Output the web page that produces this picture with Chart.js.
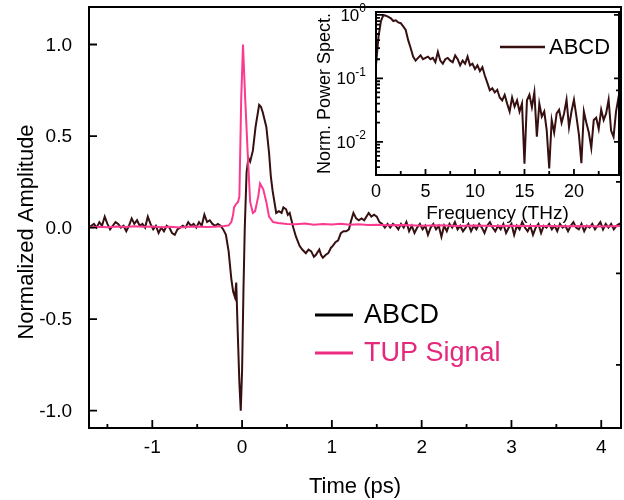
<!DOCTYPE html>
<html>
<head>
<meta charset="utf-8">
<script src="https://cdn.jsdelivr.net/npm/chart.js@4"></script>
<style>
  body { margin: 0; background: #fff; }
  #wrap { position: relative; width: 624px; height: 500px; }
  #main { position: absolute; left: 0; top: 0; }
  #inset { position: absolute; left: 300px; top: 0; }
</style>
</head>
<body>
<div id="wrap">
  <canvas id="main" width="624" height="500"></canvas>
  <canvas id="inset" width="324" height="225"></canvas>
</div>
<script>
// 시간 영역 데이터 (ps)
const abcdTime = [
  -1.71, -1.68, -1.65, -1.62, -1.59, -1.56, -1.53, -1.50, -1.47, -1.44,
  -1.41, -1.38, -1.35, -1.32, -1.29, -1.26, -1.23, -1.20, -1.17, -1.14,
  -1.11, -1.08, -1.05, -1.02, -0.99, -0.96, -0.93, -0.90, -0.87, -0.84,
  -0.81, -0.78, -0.75, -0.72, -0.69, -0.66, -0.63, -0.60, -0.57, -0.54,
  -0.51, -0.48, -0.45, -0.42, -0.39, -0.36, -0.33, -0.30, -0.27, -0.24,
  -0.21, -0.18, -0.15, -0.12, -0.10, -0.08, -0.065, -0.05, -0.03, -0.015,
  0.00, 0.015, 0.03, 0.05, 0.07, 0.09, 0.12, 0.15, 0.19, 0.21,
  0.23, 0.27, 0.30, 0.32, 0.34, 0.36, 0.38, 0.41, 0.44, 0.46,
  0.49, 0.51, 0.53, 0.57, 0.60, 0.64, 0.67, 0.71, 0.74, 0.77,
  0.80, 0.82, 0.86, 0.88, 0.90, 0.93, 0.96, 0.99, 1.01, 1.04,
  1.07, 1.10, 1.13, 1.16, 1.19, 1.21, 1.24, 1.27, 1.30, 1.33,
  1.36, 1.41, 1.44, 1.47, 1.50, 1.53, 1.56, 1.59, 1.62, 1.65,
  1.68, 1.71, 1.74, 1.77, 1.80, 1.83, 1.86, 1.89, 1.92, 1.95,
  1.98, 2.01, 2.04, 2.07, 2.10, 2.13, 2.16, 2.19, 2.22, 2.25,
  2.28, 2.31, 2.34, 2.37, 2.40, 2.43, 2.46, 2.49, 2.52, 2.55,
  2.58, 2.61, 2.64, 2.67, 2.70, 2.73, 2.76, 2.79, 2.82, 2.85,
  2.88, 2.91, 2.94, 2.97, 3.00, 3.03, 3.06, 3.09, 3.12, 3.15,
  3.18, 3.21, 3.24, 3.27, 3.30, 3.33, 3.36, 3.39, 3.42, 3.45,
  3.48, 3.51, 3.54, 3.57, 3.60, 3.63, 3.66, 3.69, 3.72, 3.75,
  3.78, 3.81, 3.84, 3.87, 3.90, 3.93, 3.96, 3.99, 4.02, 4.05,
  4.08, 4.11, 4.14, 4.17, 4.20, 4.23
];
const abcdAmp = [
  0.00, 0.01, 0.02, 0.00, 0.03, 0.01, 0.06, 0.02, -0.01, 0.01,
  0.03, 0.02, 0.00, 0.01, -0.02, 0.01, 0.05, 0.02, 0.04, 0.01,
  0.02, 0.00, 0.06, 0.02, -0.01, 0.01, -0.03, 0.00, -0.02, 0.01,
  0.00, -0.03, -0.04, -0.01, 0.00, 0.01, 0.00, 0.03, 0.01, 0.02,
  0.00, 0.03, 0.01, 0.07, 0.03, 0.04, 0.02, 0.01, 0.02, 0.01,
  -0.01, -0.04, -0.13, -0.28, -0.35, -0.38, -0.30, -0.55, -0.85, -1.00,
  -0.78, -0.35, 0.00, 0.30, 0.38, 0.36, 0.42, 0.55, 0.67, 0.66,
  0.63, 0.55, 0.41, 0.28, 0.20, 0.14, 0.08, 0.09, 0.08, 0.11,
  0.10, 0.07, 0.08, 0.00, -0.05, -0.10, -0.12, -0.14, -0.12, -0.13,
  -0.16, -0.15, -0.12, -0.15, -0.165, -0.15, -0.14, -0.11, -0.10, -0.08,
  -0.07, -0.03, -0.02, -0.02, -0.01, 0.03, 0.08, 0.05, 0.04, 0.05,
  0.04, 0.08, 0.06, 0.07, 0.06, 0.03, 0.02, 0.00, 0.02, 0.00,
  0.02, 0.01, -0.01, 0.02, 0.00, 0.03, -0.02, 0.01, -0.03, 0.00,
  0.02, -0.01, 0.01, -0.04, 0.00, 0.02, -0.01, 0.01, -0.05, 0.01,
  -0.02, 0.02, 0.00, 0.03, -0.01, 0.01, -0.02, 0.00, 0.02, -0.02,
  0.01, -0.01, 0.02, 0.00, -0.03, 0.01, 0.03, 0.00, -0.02, 0.01,
  -0.01, 0.02, -0.03, 0.00, 0.02, -0.04, 0.01, -0.01, 0.03, 0.00,
  -0.02, 0.01, -0.04, 0.00, 0.02, -0.03, 0.01, 0.00, 0.02, -0.01,
  0.01, -0.02, 0.02, 0.00, 0.01, -0.02, 0.01, 0.03, 0.00, -0.01,
  0.02, -0.02, 0.01, 0.00, 0.02, -0.01, 0.01, 0.03, -0.01, 0.02,
  0.00, 0.02, -0.01, 0.01, 0.02, 0.00
];
const tupTime = [
  -1.71, -1.60, -1.50, -1.40, -1.30, -1.20, -1.10, -1.00, -0.90, -0.80,
  -0.70, -0.60, -0.50, -0.40, -0.30, -0.20, -0.15, -0.12, -0.10, -0.09,
  -0.065, -0.045, -0.03, -0.01, 0.01, 0.035, 0.065, 0.09, 0.12, 0.145,
  0.18, 0.20, 0.235, 0.27, 0.30, 0.345, 0.40, 0.50, 0.60, 0.70,
  0.80, 0.90, 1.00, 1.10, 1.20, 1.30, 1.40, 1.50, 1.60, 1.80,
  2.00, 2.20, 2.40, 2.60, 2.80, 3.00, 3.20, 3.40, 3.60, 3.80,
  4.00, 4.23
];
const tupAmp = [
  0.000, 0.005, 0.002, 0.006, 0.003, 0.007, 0.004, 0.006, 0.002, 0.005,
  0.001, 0.004, 0.006, 0.003, 0.005, 0.008, 0.012, 0.03, 0.07, 0.11,
  0.13, 0.14, 0.17, 0.70, 1.00, 0.70, 0.38, 0.14, 0.08, 0.09,
  0.17, 0.24, 0.21, 0.14, 0.06, 0.03, 0.025, 0.02, 0.018, 0.022,
  0.016, 0.02, 0.017, 0.021, 0.015, 0.018, 0.014, 0.016, 0.012, 0.014,
  0.010, 0.012, 0.009, 0.011, 0.008, 0.010, 0.008, 0.009, 0.007, 0.009,
  0.006, 0.008
];

// 주파수 영역 데이터 (THz, 정규화 파워 스펙트럼)
const freqTHz = [
  0.00, 0.25, 0.50, 0.75, 1.00, 1.25, 1.50, 1.75, 2.00, 2.25,
  2.50, 2.75, 3.00, 3.25, 3.50, 3.75, 4.00, 4.25, 4.50, 4.75,
  5.00, 5.25, 5.50, 5.75, 6.00, 6.25, 6.50, 6.75, 7.00, 7.25,
  7.50, 7.75, 8.00, 8.25, 8.50, 8.75, 9.00, 9.25, 9.50, 9.75,
  10.00, 10.25, 10.50, 10.75, 11.00, 11.25, 11.50, 11.75, 12.00, 12.25,
  12.50, 12.75, 13.00, 13.25, 13.50, 13.75, 14.00, 14.25, 14.50, 14.75,
  15.00, 15.25, 15.50, 15.75, 16.00, 16.25, 16.50, 16.75, 17.00, 17.25,
  17.50, 17.75, 18.00, 18.25, 18.50, 18.75, 19.00, 19.25, 19.50, 19.75,
  20.00, 20.25, 20.50, 20.75, 21.00, 21.25, 21.50, 21.75, 22.00, 22.25,
  22.50, 22.75, 23.00, 23.25, 23.50, 23.75, 24.00, 24.25, 24.50, 24.75
];
const powerSpect = [
  0.16, 0.45, 0.80, 1.00, 0.97, 0.93, 0.88, 0.80, 0.82, 0.76,
  0.74, 0.66, 0.58, 0.40, 0.30, 0.22, 0.19, 0.21, 0.23, 0.20,
  0.21, 0.22, 0.20, 0.21, 0.18, 0.26, 0.19, 0.17, 0.20, 0.21,
  0.19, 0.18, 0.23, 0.20, 0.16, 0.19, 0.17, 0.22, 0.16, 0.17,
  0.14, 0.16, 0.13, 0.15, 0.11, 0.085, 0.065, 0.07, 0.06, 0.066,
  0.05, 0.045, 0.055, 0.04, 0.03, 0.05, 0.036, 0.045, 0.03, 0.04,
  0.0045, 0.045, 0.055, 0.035, 0.06, 0.012, 0.04, 0.025, 0.03, 0.015,
  0.0038, 0.022, 0.014, 0.028, 0.032, 0.02, 0.028, 0.046, 0.017, 0.03,
  0.046, 0.025, 0.013, 0.0046, 0.03, 0.02, 0.014, 0.008, 0.022, 0.024,
  0.016, 0.032, 0.022, 0.028, 0.046, 0.015, 0.012, 0.03, 0.05, 0.02
];

// 눈금 위치
const mainXMajor = [-1, 0, 1, 2, 3, 4];
const mainXMinor = [-1.5, -0.5, 0.5, 1.5, 2.5, 3.5];
const mainYMajor = [-1, -0.5, 0, 0.5, 1];
const mainYRight = [-0.75, -0.25, 0.25, 0.75];
const insetXMajor = [0, 5, 10, 15, 20];
const insetXMinor = [2.5, 7.5, 12.5, 17.5, 22.5];
const insetDecades = [-2, -1, 0];
const insetYMinor = [0.004, 0.005, 0.006, 0.007, 0.008, 0.009,
  0.02, 0.03, 0.04, 0.05, 0.06, 0.07, 0.08, 0.09,
  0.2, 0.3, 0.4, 0.5, 0.6, 0.7, 0.8, 0.9];

const ABCD_COLOR = '#360f10';
const TUP_COLOR = '#fb3a8f';
const FONT = "'Liberation Sans', Arial, sans-serif";

Chart.defaults.font.family = FONT;
Chart.defaults.color = '#000';

function toXY(xs, ys) {
  return xs.map((x, i) => ({ x: x, y: ys[i] }));
}

// 축 크기 고정 (라벨 여백 제거)
function fixWidth(w) {
  return s => { s.width = w; s.paddingTop = 0; s.paddingBottom = 0; };
}
function fixHeight(h) {
  return s => { s.height = h; s.paddingLeft = 0; s.paddingRight = 0; };
}

// 안쪽 눈금 + 테두리
const frameTicks = {
  id: 'frameTicks',
  afterDraw(chart, args, opts) {
    const { ctx, chartArea: a, scales } = chart;
    ctx.save();
    ctx.strokeStyle = '#000';
    ctx.lineWidth = 2;
    ctx.strokeRect(a.left, a.top, a.right - a.left, a.bottom - a.top);
    ctx.lineWidth = 1.8;
    ctx.beginPath();
    (opts.bottom || []).forEach(([v, len]) => {
      const px = scales.x.getPixelForValue(v);
      ctx.moveTo(px, a.bottom); ctx.lineTo(px, a.bottom - len);
    });
    (opts.left || []).forEach(([v, len]) => {
      const py = scales.y.getPixelForValue(v);
      ctx.moveTo(a.left, py); ctx.lineTo(a.left + len, py);
    });
    (opts.right || []).forEach(([v, len]) => {
      const py = scales.y.getPixelForValue(v);
      ctx.moveTo(a.right, py); ctx.lineTo(a.right - len, py);
    });
    ctx.stroke();
    ctx.restore();
  }
};

// 본 그래프 눈금 라벨 + 세로축 제목
const mainTickLabels = {
  id: 'mainTickLabels',
  afterDraw(chart) {
    const { ctx, chartArea: a, scales } = chart;
    ctx.save();
    ctx.fillStyle = '#000';
    ctx.font = '19px ' + FONT;
    ctx.textAlign = 'right';
    ctx.textBaseline = 'middle';
    scales.y.ticks.forEach(t => {
      ctx.fillText(Number(t.value).toFixed(1), a.left - 17, scales.y.getPixelForValue(t.value) + 1);
    });
    ctx.textAlign = 'center';
    ctx.textBaseline = 'top';
    scales.x.ticks.forEach(t => {
      ctx.fillText(String(t.value), scales.x.getPixelForValue(t.value), a.bottom + 10);
    });
    // 세로축 제목 (원본은 약간 아래쪽)
    ctx.font = '22px ' + FONT;
    ctx.textBaseline = 'middle';
    ctx.translate(27, 232);
    ctx.rotate(-Math.PI / 2);
    ctx.fillText('Normalized Amplitude', 0, 0);
    ctx.restore();
  }
};

// 수동 범례
const lineLegend = {
  id: 'lineLegend',
  afterDraw(chart, args, opts) {
    const ctx = chart.ctx;
    ctx.save();
    ctx.font = opts.font;
    ctx.textBaseline = 'middle';
    ctx.textAlign = 'left';
    opts.items.forEach(it => {
      ctx.strokeStyle = it.color;
      ctx.lineWidth = opts.lineWidth;
      ctx.beginPath();
      ctx.moveTo(opts.x0, it.y); ctx.lineTo(opts.x1, it.y);
      ctx.stroke();
      ctx.fillStyle = it.textColor;
      ctx.fillText(it.label, opts.textX, it.y + 1);
    });
    ctx.restore();
  }
};

// 로그축 라벨 10^n
const powerLabels = {
  id: 'powerLabels',
  afterDraw(chart) {
    const { ctx, chartArea: a, scales } = chart;
    ctx.save();
    ctx.fillStyle = '#000';
    ctx.textBaseline = 'middle';
    ctx.textAlign = 'left';
    insetDecades.forEach(p => {
      const py = scales.y.getPixelForValue(Math.pow(10, p));
      const exp = p === 0 ? '0' : '-' + Math.abs(p);
      ctx.font = '12px ' + FONT;
      const we = ctx.measureText(exp).width;
      ctx.font = '17px ' + FONT;
      const wb = ctx.measureText('10').width;
      const right = a.left - 10;
      ctx.fillText('10', right - we - wb, py + 1);
      ctx.font = '12px ' + FONT;
      ctx.fillText(exp, right - we, py - 6);
    });
    ctx.restore();
  }
};

new Chart(document.getElementById('main'), {
  type: 'line',
  data: {
    datasets: [
      {
        label: 'TUP Signal',
        data: toXY(tupTime, tupAmp),
        borderColor: TUP_COLOR,
        borderWidth: 2,
        pointRadius: 0,
        tension: 0
      },
      {
        label: 'ABCD',
        data: toXY(abcdTime, abcdAmp),
        borderColor: ABCD_COLOR,
        borderWidth: 2,
        pointRadius: 0,
        tension: 0
      }
    ]
  },
  options: {
    responsive: false,
    animation: false,
    devicePixelRatio: 1,
    layout: { padding: { left: 0, right: 3, top: 7, bottom: 0 } },
    plugins: {
      legend: { display: false },
      tooltip: { enabled: false },
      frameTicks: {
        bottom: mainXMajor.map(v => [v, 8]).concat(mainXMinor.map(v => [v, 4])),
        left: mainYMajor.map(v => [v, 8]),
        right: mainYRight.map(v => [v, 5])
      },
      lineLegend: {
        font: '27px ' + FONT,
        lineWidth: 3,
        x0: 315, x1: 353, textX: 364,
        items: [
          { label: 'ABCD', color: '#000', textColor: '#000', y: 315 },
          { label: 'TUP Signal', color: '#ec2c80', textColor: '#e4287c', y: 353 }
        ]
      }
    },
    scales: {
      x: {
        type: 'linear',
        min: -1.705,
        max: 4.22,
        grid: { display: false, drawTicks: false },
        border: { display: false },
        ticks: { display: false, stepSize: 1, includeBounds: false },
        title: { display: true, text: 'Time (ps)', font: { size: 22 }, padding: { top: 2, bottom: 0 } },
        afterFit: fixHeight(72)
      },
      y: {
        type: 'linear',
        min: -1.095,
        max: 1.205,
        grid: { display: false, drawTicks: false },
        border: { display: false },
        ticks: { display: false, stepSize: 0.5, includeBounds: false },
        title: { display: false },
        afterFit: fixWidth(89)
      }
    }
  },
  plugins: [frameTicks, mainTickLabels, lineLegend]
});

new Chart(document.getElementById('inset'), {
  type: 'line',
  data: {
    datasets: [{
      label: 'ABCD',
      data: toXY(freqTHz, powerSpect),
      borderColor: ABCD_COLOR,
      borderWidth: 2,
      pointRadius: 0,
      tension: 0
    }]
  },
  options: {
    responsive: false,
    animation: false,
    devicePixelRatio: 1,
    layout: { padding: { left: 0, right: 5, top: 12, bottom: 0 } },
    plugins: {
      legend: { display: false },
      tooltip: { enabled: false },
      frameTicks: {
        bottom: insetXMajor.map(v => [v, 6]).concat(insetXMinor.map(v => [v, 4])),
        left: insetDecades.map(p => [Math.pow(10, p), 7]).concat(insetYMinor.map(v => [v, 4])),
        right: insetDecades.map(p => [Math.pow(10, p), 5])
      },
      lineLegend: {
        font: '22px ' + FONT,
        lineWidth: 2.5,
        x0: 200, x1: 245, textX: 249,
        items: [{ label: 'ABCD', color: ABCD_COLOR, textColor: '#000', y: 47 }]
      }
    },
    scales: {
      x: {
        type: 'linear',
        min: 0,
        max: 24.55,
        grid: { display: false, drawTicks: false },
        border: { display: false },
        ticks: { stepSize: 5, includeBounds: false, padding: 6, font: { size: 18 },
          callback: v => String(v) },
        title: { display: true, text: 'Frequency (THz)', font: { size: 19 }, padding: { top: 9, bottom: 0 } },
        afterFit: fixHeight(50)
      },
      y: {
        type: 'logarithmic',
        min: 0.003,
        max: 1.11,
        grid: { display: false, drawTicks: false },
        border: { display: false },
        ticks: { display: false },
        title: { display: true, text: 'Norm. Power Spect.', font: { size: 18 }, padding: { top: 14, bottom: 0 } },
        afterFit: fixWidth(76)
      }
    }
  },
  plugins: [frameTicks, lineLegend, powerLabels]
});
</script>
</body>
</html>
